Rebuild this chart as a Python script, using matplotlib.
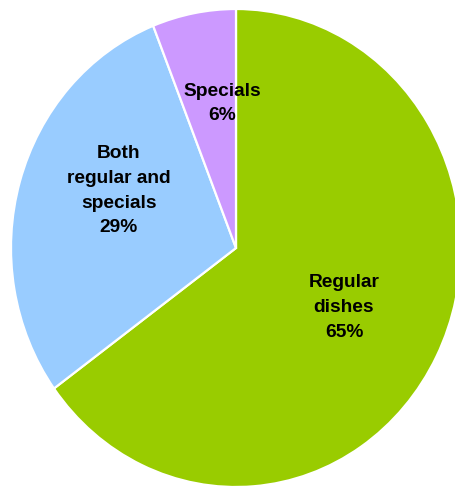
import matplotlib
matplotlib.use('Agg')
import matplotlib.pyplot as plt

# Share of customers by what they order
categories = ['Regular\ndishes', 'Both\nregular and\nspecials', 'Specials']
shares = [65, 29, 6]
colors = ['#99CC00', '#99CCFF', '#CC99FF']

# label anchor points inside each slice (axes data units)
label_pos = [(0.48, -0.25), (-0.52, 0.24), (-0.06, 0.605)]

plt.rcParams['font.family'] = ['Liberation Sans', 'DejaVu Sans']

fig = plt.figure(figsize=(4.56, 4.88), dpi=100)
# pie is a bit taller than wide
ax = fig.add_axes([11 / 456, 1 / 488, 450 / 456, 478 / 488])

wedges, _ = ax.pie(shares, colors=colors, startangle=90, counterclock=False,
                   radius=1, wedgeprops=dict(edgecolor='white', linewidth=1.6))

for name, val, (x, y) in zip(categories, shares, label_pos):
    ax.text(x, y, f'{name}\n{val}%', ha='center', va='center',
            fontsize=13.8, fontweight='bold', linespacing=1.6)

ax.set_aspect('auto')
ax.set_xlim(-1, 1)
ax.set_ylim(-1, 1)
ax.axis('off')

fig.savefig('out.png', dpi=100)
